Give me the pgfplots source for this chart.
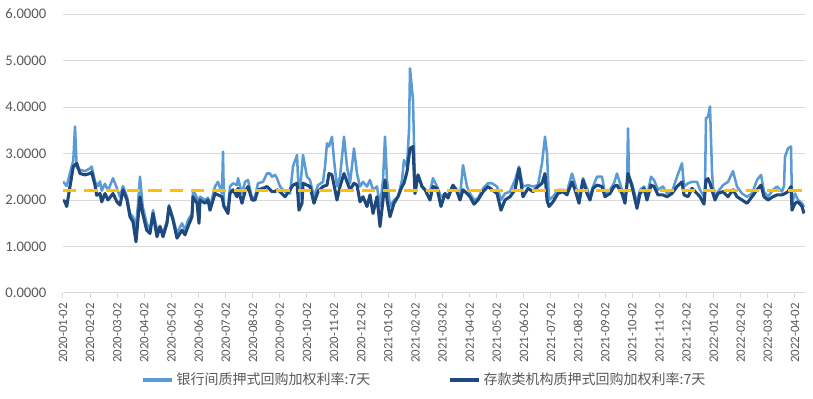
\documentclass[border=0pt]{standalone}
\usepackage{fontspec}
\setmainfont{Carlito}
\newfontfamily\cjk{Noto Sans CJK SC}
\usepackage{pgfplots}
\pgfplotsset{compat=1.18}
\definecolor{lightb}{RGB}{91,155,213}
\definecolor{darkb}{RGB}{31,73,125}
\definecolor{yel}{RGB}{255,192,0}
\definecolor{txt}{RGB}{89,89,89}
\definecolor{grd}{RGB}{217,217,217}
\begin{document}
\begin{tikzpicture}
\path[use as bounding box] (-47.25pt,-79.5pt) rectangle (562.5pt,219.75pt);
\begin{axis}[
  scale only axis, width=556.5pt, height=209.25pt,
  xmin=63, xmax=805, ymin=0, ymax=6,
  axis x line*=bottom, axis y line*=left,
  x axis line style={-, draw=grd, line width=0.75pt},
  y axis line style={draw=none},
  ytick={0,1,...,6},
  ymajorgrids, grid style={draw=grd, line width=0.75pt},
  ytick style={draw=none},
  xtick={63,90.11,...,796},
  xtick style={draw=grd, line width=0.75pt},
  tick align=outside, major tick length=4pt,
  xticklabels={2020-01-02,2020-02-02,2020-03-02,2020-04-02,2020-05-02,2020-06-02,2020-07-02,2020-08-02,2020-09-02,2020-10-02,2020-11-02,2020-12-02,2021-01-02,2021-02-02,2021-03-02,2021-04-02,2021-05-02,2021-06-02,2021-07-02,2021-08-02,2021-09-02,2021-10-02,2021-11-02,2021-12-02,2022-01-02,2022-02-02,2022-03-02,2022-04-02},
  xticklabel style={rotate=90, anchor=east, font=\fontsize{9.6}{11}\selectfont, text=txt, xshift=0pt},
  yticklabel style={font=\fontsize{11}{13}\selectfont, text=txt, xshift=-5pt},
  /pgf/number format/.cd, fixed, fixed zerofill, precision=4, assume math mode=true,
  /pgfplots/.cd,
  legend style={at={(0.487,-0.312)}, anchor=center, draw=none, fill=none,
    legend columns=2, font=\cjk\fontsize{10.5}{12}\selectfont, text=txt,
    /tikz/every even column/.append style={column sep=56pt},
    /tikz/every odd column/.append style={column sep=0pt}},
  legend image code/.code={\draw[#1, line width=3pt] (0pt,0pt) -- (22pt,0pt);},
  legend cell align=left,
]
\addplot[lightb, line width=1.9pt, line join=round] table {
x y
63 2.40
66.7 2.30
70 2.58
73.3 2.85
75 3.58
76.7 2.70
80 2.65
85 2.62
90 2.68
91.7 2.72
95 2.40
98 2.30
100 2.40
101.7 2.20
105 2.35
108 2.20
113 2.47
117 2.25
120 2.07
123 2.30
127 2.07
130 1.71
133 1.64
136 1.43
138 1.90
140 2.50
142.7 1.86
146.7 1.50
150 1.36
153 1.78
157 1.36
160 1.43
163 1.29
167 1.55
169 1.89
173 1.62
177 1.28
182 1.50
185 1.35
188 1.57
192 1.71
193 2.22
197 2.05
199 1.57
200 2.07
205 2.00
208 2.05
210 1.85
215 2.29
218 2.39
222 2.14
223 3.04
224 1.86
228 1.82
230 2.29
233 2.36
237 2.32
238 2.47
242 2.14
245 2.39
248 2.43
252 2.04
255 2.07
258 2.36
263 2.39
267 2.57
270 2.57
272 2.50
275 2.54
277 2.47
280 2.29
285 2.18
290 2.14
293 2.72
297 2.97
299 2.00
300 2.20
303 2.97
307 2.50
310 2.43
314 2.07
318 2.32
323 2.39
325 2.72
327 3.22
329 3.15
332 3.36
334 2.86
337 2.29
340 2.50
344 3.36
347 2.72
350 2.36
354 3.11
357 2.57
360 2.29
363 2.39
367 2.29
370 2.43
373 2.22
377 2.29
380 1.86
383 2.43
385 3.36
387 2.43
390 1.86
394 2.00
398 2.07
402 2.43
404 2.86
407 2.72
409 3.50
410 4.83
413 4.15
415 2.29
418 2.54
422 2.29
425 2.22
430 2.18
433 2.47
437 2.29
441 2.07
445 2.14
448 2.11
453 2.32
457 2.22
460 2.07
463 2.75
467 2.29
470 2.14
474 2.00
478 2.04
483 2.25
488 2.36
492 2.36
497 2.29
501 2.00
505 2.14
510 2.18
515 2.43
519 2.72
523 2.29
528 2.32
533 2.29
538 2.32
542 2.79
545 3.36
547 3.00
549 2.00
553 2.07
558 2.22
563 2.22
567 2.18
572 2.57
575 2.36
579 2.00
583 2.47
587 2.25
590 2.07
593 2.29
597 2.50
602 2.50
605 2.14
610 2.22
614 2.36
617 2.57
622 2.22
625 2.00
627 2.30
628 3.54
629 2.50
632 2.36
637 1.93
640 2.22
644 2.29
647 2.07
651 2.50
654 2.43
658 2.22
663 2.29
667 2.14
672 2.18
677 2.50
682 2.79
684 2.29
688 2.36
692 2.39
697 2.39
700 2.22
704 2.07
705 2.30
706 3.76
708 3.79
710 4.01
712 2.60
713 2.29
715 2.07
718 2.18
723 2.32
728 2.39
733 2.62
737 2.29
742 2.14
747 2.07
752 2.14
757 2.43
761 2.54
764 2.18
768 2.07
773 2.22
777 2.29
782 2.18
784 2.30
785 2.93
788 3.11
791 3.15
792 1.93
795 2.14
798 2.00
802 1.93
804 1.85
};
\addlegendentry{银行间质押式回购加权利率:7天}
\addplot[darkb, line width=2.3pt, line join=round] table {
x y
63 2.00
65 1.96
66.7 1.86
70 2.29
73.3 2.72
76.7 2.79
80 2.57
85 2.54
90 2.57
91.7 2.60
95 2.32
96.7 2.10
100 2.14
101.7 1.96
105 2.14
108 2.00
113 2.14
117 1.96
120 1.89
123 2.22
127 2.00
130 1.64
133 1.53
136 1.10
140 2.07
142.7 1.71
146.7 1.35
150 1.28
153 1.71
157 1.21
160 1.43
163 1.21
167 1.50
169 1.86
173 1.57
177 1.18
182 1.35
185 1.25
188 1.43
192 1.64
193 2.07
197 1.93
199 1.50
200 2.00
205 1.93
208 2.00
210 1.78
215 2.14
218 2.11
222 2.07
224 1.86
228 1.71
230 2.14
233 2.22
237 2.07
238 2.25
242 1.93
245 2.18
248 2.29
252 2.00
255 2.00
258 2.22
263 2.25
267 2.29
272 2.18
275 2.18
277 2.22
280 2.18
285 2.07
290 2.22
293 2.32
297 2.36
299 1.78
302 1.93
303 2.36
307 2.32
310 2.29
314 1.93
318 2.18
323 2.29
327 2.32
329 2.57
332 2.54
334 2.32
337 2.00
340 2.29
344 2.57
347 2.39
350 2.22
354 2.36
357 2.32
360 1.96
363 2.07
367 1.86
370 2.11
373 1.71
377 2.07
380 1.43
383 2.00
385 2.43
387 2.00
390 1.64
394 1.93
398 2.07
402 2.29
404 2.36
407 2.61
410 3.11
413 3.15
415 2.14
418 2.54
422 2.29
425 2.22
430 2.00
433 2.29
437 2.25
441 1.86
445 2.14
448 2.04
453 2.32
457 2.18
460 2.00
463 2.22
467 2.14
470 2.07
474 1.91
478 2.00
483 2.18
488 2.29
492 2.22
497 2.14
501 1.78
505 2.00
510 2.07
515 2.22
519 2.68
523 2.07
528 2.25
533 2.18
538 2.29
542 2.36
545 2.57
547 2.00
549 1.86
553 1.96
558 2.14
563 2.18
567 2.11
572 2.39
575 2.22
579 1.93
583 2.43
587 2.14
590 2.00
593 2.25
597 2.32
602 2.29
605 2.07
610 2.14
614 2.29
617 2.32
622 2.14
625 1.93
628 2.57
632 2.29
637 1.82
640 2.14
644 2.25
647 2.00
651 2.32
654 2.29
658 2.11
663 2.11
667 2.07
672 2.14
677 2.29
682 2.39
684 2.11
688 2.07
692 2.25
697 2.14
700 2.07
704 1.91
706 2.43
708 2.46
710 2.36
713 2.14
715 2.00
718 2.14
723 2.18
728 2.07
733 2.22
737 2.07
742 2.00
747 1.93
752 2.07
757 2.22
761 2.32
764 2.07
768 2.00
773 2.07
777 2.11
782 2.11
785 2.14
788 2.18
791 2.29
792 1.78
795 1.93
798 1.96
802 1.86
804 1.71
};
\addlegendentry{存款类机构质押式回购加权利率:7天}
\addplot[yel, line width=2.2pt, dash pattern=on 10pt off 6pt, forget plot] coordinates {(63,2.2) (805,2.2)};
\end{axis}
\end{tikzpicture}
\end{document}
